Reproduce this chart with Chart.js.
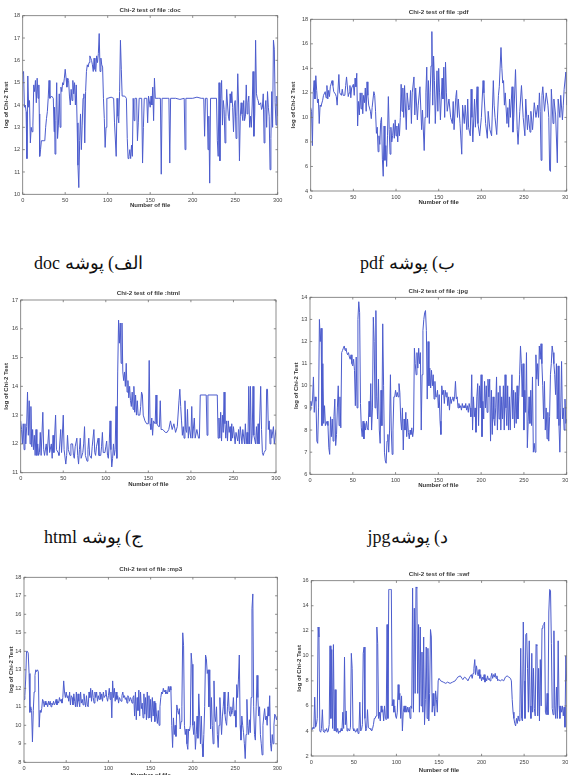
<!DOCTYPE html>
<html><head><meta charset="utf-8">
<script src="https://cdn.jsdelivr.net/npm/chart.js@4.4.1/dist/chart.umd.min.js"></script>
<style>
html,body{margin:0;padding:0;background:#fff;overflow:hidden;width:568px;height:775px}
.pc{position:absolute}
.cap{position:absolute;font-family:'Liberation Serif','Times New Roman',serif;font-size:18px;line-height:18px;color:#111;white-space:nowrap;direction:rtl;text-align:right}
</style></head><body>
<div class="cap" style="right:425px;top:254px">الف) پوشه doc</div>
<div class="cap" style="right:113px;top:254px">ب) پوشه pdf</div>
<div class="cap" style="right:425px;top:528px">ج) پوشه html</div>
<div class="cap" style="right:120px;top:528px">د) پوشهjpg</div>
<script>
// ---------- data (file number, log of Chi-2 test) ----------
const xTicks = [0, 50, 100, 150, 200, 250, 300];

const docData = [[0,15.4],[1,15.5],[2,13.9],[3,14.0],[4,13.7],[5,11.6],[6,15.3],[7,13.9],[8,14.2],[9,12.3],[10,13.0],[11,12.8],[12,13.1],[13,14.9],[14,14.6],[15,15.1],[16,14.1],[17,15.2],[18,14.3],[19,14.9],[19.5,13.6],[20,11.7],[21,12.0],[22,12.4],[24,12.4],[26,12.4],[27,13.0],[28,13.4],[29,13.7],[30,14.3],[31,15.1],[32,14.3],[34,14.4],[36,14.3],[37,12.8],[37.5,13.9],[38,11.8],[39,13.3],[40,15.0],[41,12.5],[42,13.1],[43,14.5],[44,13.0],[45,14.8],[46,14.6],[47,15.0],[48,14.9],[49,15.2],[50,15.6],[51,15.2],[52,14.8],[53,15.2],[54,15.1],[55,14.4],[56,14.0],[57,14.7],[58,14.2],[59,15.1],[60,14.5],[61,15.0],[62,14.0],[63,14.9],[64,13.2],[65,11.3],[66,10.3],[67,12.4],[68,13.6],[69,12.0],[70,13.1],[71,14.3],[72,14.5],[73,12.3],[74,14.6],[75,15.5],[76,15.8],[77,15.7],[78,15.9],[79,16.2],[80,16.1],[81,16.0],[82,15.8],[83,15.5],[84,16.1],[85,15.6],[86,15.5],[87,16.2],[88,15.9],[89,16.3],[90,17.2],[91,15.5],[92,16.1],[93,15.8],[94,15.7],[95,14.3],[96,13.4],[97,12.1],[98,13.0],[99,14.3],[100,14.3],[104,14.35],[107,14.3],[108,13.2],[110,11.7],[111,14.3],[112,13.5],[113,13.2],[114,14.6],[115,16.9],[116,15.6],[117,14.4],[120,14.4],[122,14.3],[123,12.5],[124,11.6],[125,11.7],[126,12.0],[127,11.6],[128,12.2],[129,11.7],[130,14.3],[131,13.3],[132,14.3],[134,14.3],[135,12.4],[136,13.2],[137,14.3],[140,14.3],[141,11.4],[142,13.0],[143,14.3],[146,14.3],[147,13.2],[148,14.4],[150,13.9],[151,14.4],[152,14.0],[153,14.8],[154,13.3],[155,15.2],[156,14.3],[160,14.3],[162,14.3],[163,10.9],[164,14.3],[170,14.3],[172,14.3],[173,11.4],[174,14.3],[180,14.3],[185,14.25],[190,14.3],[191,12.0],[192,14.3],[200,14.3],[205,14.35],[210,14.3],[213,14.3],[214,12.6],[215,14.3],[217,14.3],[218,12.0],[219,13.5],[220,10.5],[221,14.3],[228,14.3],[229,12.4],[230,11.7],[231,15.0],[232,11.5],[233,14.3],[234,15.1],[235,13.1],[236,14.2],[237,13.8],[238,12.3],[239,13.5],[240,14.7],[241,14.0],[242,13.5],[243,13.3],[244,14.5],[245,14.1],[246,14.6],[247,13.9],[248,12.8],[249,14.0],[250,14.2],[251,12.5],[252,13.5],[253,15.4],[254,14.0],[255,11.5],[256,13.5],[257,14.1],[258,13.6],[259,13.3],[260,14.2],[261,13.3],[262,13.5],[263,14.9],[264,13.6],[265,14.1],[266,14.4],[267,13.0],[268,13.5],[269,13.0],[270,14.0],[271,15.5],[272,12.6],[273,13.6],[274,16.9],[275,14.5],[276,14.3],[277,14.2],[278,14.0],[280,14.1],[281,13.8],[282,13.9],[283,14.5],[284,12.3],[285,13.8],[286,14.2],[287,13.0],[288,14.6],[289,13.9],[290,13.5],[291,11.1],[292,12.5],[293,14.6],[294,13.0],[295,16.9],[296,16.5],[297,14.1],[298,13.1],[299,14.4],[300,13.5]];

const pdfData = [[0,10.8],[1,10.5],[2,7.7],[3,12.0],[4,13.0],[5,11.5],[6,13.4],[7,12.2],[8,11.2],[9,11.5],[10,9.5],[11,11.0],[12,10.9],[14,11.4],[15,11.8],[17,12.1],[18,11.6],[19,12.6],[20,11.5],[21,12.2],[22,11.7],[23,12.5],[25,13.0],[26,12.6],[27,12.1],[29,11.9],[30,11.7],[31,11.0],[33,13.5],[34,12.0],[36,11.8],[37,12.3],[38,11.8],[40,11.8],[41,12.6],[42,13.3],[44,11.7],[45,12.0],[46,12.6],[47,11.6],[48,12.4],[50,12.7],[51,11.8],[52,13.2],[53,12.5],[54,13.6],[55,9.3],[56,11.3],[57,10.2],[58,12.0],[59,10.7],[60,12.0],[61,10.3],[62,11.8],[63,11.2],[64,12.4],[65,10.5],[66,12.9],[67,11.8],[68,11.0],[70,10.5],[71,9.9],[72,10.8],[74,12.1],[75,11.8],[76,10.5],[77,8.7],[78,9.2],[79,7.2],[80,8.5],[81,7.8],[82,9.6],[83,10.0],[84,6.6],[85,5.2],[86,9.3],[87,6.5],[88,7.7],[89,6.0],[90,8.5],[91,11.7],[92,9.0],[93,7.0],[94,9.2],[95,8.0],[96,8.5],[97,9.5],[98,8.3],[99,9.8],[100,8.5],[101,9.3],[102,8.0],[103,9.5],[104,8.5],[105,10.0],[106,12.7],[107,10.5],[108,12.4],[109,10.0],[110,12.6],[112,9.0],[113,12.0],[115,10.6],[116,10.8],[117,12.2],[118,9.5],[119,12.0],[121,13.3],[122,10.2],[123,12.4],[125,9.8],[126,11.0],[128,12.5],[130,9.0],[131,10.6],[133,7.3],[134,10.0],[135,12.0],[136,14.1],[137,10.0],[138,13.0],[139,9.5],[140,12.0],[141,14.2],[142,17.0],[143,11.0],[144,15.0],[145,13.0],[146,9.5],[148,13.8],[149,10.5],[150,14.0],[151,12.0],[152,9.8],[154,13.2],[155,11.5],[156,14.1],[157,10.0],[158,14.5],[159,12.0],[160,10.5],[162,11.5],[164,10.0],[166,9.5],[167,11.3],[168,9.0],[170,11.6],[171,12.2],[172,10.0],[173,11.5],[175,9.5],[177,7.0],[178,11.0],[180,9.5],[181,11.0],[183,9.0],[184,11.5],[185,9.2],[187,8.5],[188,12.3],[189,10.0],[190,8.0],[192,11.5],[193,9.2],[195,12.5],[196,9.5],[198,8.5],[200,10.0],[202,13.0],[203,12.0],[205,9.5],[207,8.3],[208,10.5],[210,9.0],[212,8.5],[214,13.0],[215,11.0],[216,10.0],[218,8.6],[220,11.8],[221,12.5],[223,15.7],[224,14.0],[225,12.8],[226,13.0],[227,11.0],[228,12.0],[230,9.5],[231,10.8],[232,9.2],[233,11.5],[234,10.0],[236,12.5],[237,8.8],[238,10.0],[240,13.9],[242,9.0],[243,7.8],[245,10.5],[247,12.6],[249,10.0],[251,8.5],[252,11.5],[254,9.0],[255,10.2],[257,8.8],[258,10.5],[260,9.0],[262,11.2],[264,10.0],[266,11.0],[267,10.0],[268,12.0],[269,10.5],[270,6.5],[271,11.8],[272,12.5],[274,10.5],[276,12.0],[278,11.0],[279,10.0],[280,5.7],[281,5.6],[282,12.3],[284,9.5],[285,11.5],[287,10.2],[289,6.3],[290,11.5],[292,10.0],[293,11.8],[295,9.8],[296,11.0],[297,12.3],[299,13.7],[300,11.0]];

const htmlData = [[0,12.8],[1,12.5],[2,12.0],[3,12.7],[4,11.8],[5,12.7],[6,12.0],[7,12.6],[8,13.8],[9,12.3],[10,13.5],[11,12.0],[12,13.3],[13,11.9],[14,12.5],[15,11.8],[16,12.3],[17,11.6],[18,12.5],[19,11.6],[20,12.0],[21,11.6],[22,11.7],[23,12.4],[24,11.6],[26,13.1],[27,11.8],[28,11.6],[30,12.0],[31,11.6],[33,12.5],[34,11.7],[36,12.0],[37,11.5],[38,12.3],[39,11.7],[41,13.0],[42,11.8],[44,11.7],[45,11.6],[47,12.5],[48,11.7],[50,13.0],[51,11.8],[53,11.3],[54,11.6],[55,12.3],[56,11.8],[58,11.6],[59,12.0],[61,12.0],[62,11.6],[63,11.5],[64,11.9],[66,12.2],[67,11.6],[68,11.3],[69,11.8],[70,12.2],[71,11.5],[73,11.7],[74,12.0],[75,12.6],[76,11.6],[78,11.4],[79,11.8],[80,12.2],[81,11.6],[83,11.5],[84,11.9],[86,12.5],[87,11.7],[88,11.6],[89,11.9],[91,12.2],[92,11.6],[94,11.6],[95,11.9],[96,12.4],[97,11.7],[99,11.7],[100,11.9],[101,12.1],[102,11.6],[103,11.5],[104,12.0],[105,12.8],[106,11.8],[107,11.2],[108,11.5],[109,12.0],[110,11.6],[111,11.8],[112,13.3],[113,11.5],[114,14.5],[115,16.3],[116,15.5],[117,16.2],[118,14.8],[119,16.2],[120,14.5],[121,14.2],[122,14.5],[123,14.0],[124,14.8],[125,13.8],[126,14.2],[127,13.6],[128,14.0],[129,13.5],[130,13.3],[131,13.8],[132,13.2],[133,14.0],[134,13.1],[135,13.7],[136,13.0],[137,13.5],[138,13.0],[140,13.0],[141,13.3],[142,13.8],[143,13.7],[144,13.0],[146,12.8],[148,12.7],[150,12.7],[151,14.9],[152,12.7],[153,12.5],[154,12.9],[155,12.3],[156,12.8],[158,12.7],[159,13.7],[160,12.7],[162,12.6],[163,12.6],[164,13.5],[165,12.5],[167,12.5],[170,12.4],[172,12.4],[174,12.5],[176,12.8],[178,12.5],[180,12.7],[182,12.4],[184,12.6],[186,13.5],[187,13.9],[188,13.3],[189,12.8],[190,12.3],[191,12.6],[192,12.2],[193,13.5],[194,12.5],[195,12.4],[196,13.2],[197,12.2],[198,12.6],[200,12.2],[201,13.3],[202,12.2],[204,12.9],[205,12.2],[207,12.5],[209,12.2],[210,12.2],[211,13.7],[218,13.7],[219,12.3],[220,13.7],[231,13.7],[232,12.2],[233,12.9],[234,12.2],[235,13.1],[236,12.1],[237,13.0],[238,12.4],[239,13.8],[240,12.7],[241,12.2],[242,12.8],[243,12.1],[244,12.8],[245,12.4],[246,12.6],[247,12.1],[248,12.7],[249,12.2],[250,12.6],[252,12.0],[253,12.4],[255,12.1],[256,12.5],[257,12.0],[258,12.6],[260,12.0],[261,12.5],[263,12.0],[264,12.7],[265,12.0],[266,12.4],[267,12.0],[268,14.0],[269,12.0],[270,14.0],[271,12.0],[272,12.3],[273,14.0],[274,12.3],[276,12.0],[277,12.6],[278,12.0],[279,12.7],[280,12.0],[282,14.0],[283,12.5],[284,11.7],[285,11.6],[286,11.7],[288,11.8],[289,13.9],[290,13.9],[291,12.5],[292,12.8],[293,12.0],[294,12.5],[295,12.2],[297,12.6],[298,12.0],[300,12.5]];

const jpgData = [[0,8.9],[1,9.3],[2,9.1],[3,9.4],[4,10.4],[5,8.8],[6,9.5],[7,9.3],[8,7.5],[9,7.4],[10,9.0],[11,13.0],[12,12.0],[13,12.6],[14,8.2],[15,11.0],[16,8.3],[17,9.1],[18,8.2],[20,8.4],[21,8.2],[22,7.2],[23,6.9],[24,8.6],[25,7.7],[26,8.5],[27,7.5],[28,8.6],[29,9.4],[30,7.3],[31,7.8],[32,9.0],[33,10.0],[34,8.2],[35,9.5],[36,8.1],[37,11.5],[38,11.6],[39,11.7],[40,11.8],[41,11.6],[42,11.7],[43,11.5],[44,11.4],[45,11.5],[46,11.3],[47,11.2],[48,11.4],[49,11.0],[50,10.9],[51,11.2],[52,10.7],[53,9.1],[54,11.3],[55,9.0],[56,13.0],[57,13.8],[58,13.3],[59,9.2],[60,8.1],[61,7.7],[62,8.4],[63,7.6],[64,8.3],[65,8.0],[66,8.4],[67,8.1],[68,8.0],[69,9.3],[70,8.6],[71,10.1],[72,8.0],[73,9.0],[74,13.1],[75,12.0],[76,9.0],[77,13.4],[78,9.5],[79,8.5],[80,10.3],[81,8.0],[82,7.4],[83,9.8],[84,8.2],[85,12.8],[86,10.0],[87,7.0],[88,6.6],[89,6.5],[90,7.5],[91,7.8],[92,7.0],[93,8.0],[94,10.5],[95,8.0],[96,6.9],[97,8.0],[98,9.5],[99,9.5],[100,9.8],[101,9.5],[102,9.7],[103,9.5],[104,10.1],[105,9.7],[106,8.5],[107,8.0],[108,9.0],[109,7.1],[110,8.5],[111,8.0],[112,8.8],[113,7.7],[114,8.5],[115,7.9],[116,7.6],[117,8.0],[118,7.8],[119,8.1],[120,7.7],[121,8.0],[122,11.7],[123,11.0],[124,10.5],[125,11.5],[126,10.8],[127,11.7],[128,11.0],[129,11.5],[130,8.0],[131,10.5],[132,12.5],[133,13.0],[134,13.3],[135,13.4],[136,12.5],[137,9.4],[138,12.0],[139,10.0],[140,10.8],[141,9.9],[142,10.7],[143,10.0],[144,10.5],[145,9.4],[146,10.2],[147,9.5],[148,9.5],[149,9.8],[150,9.0],[151,9.6],[152,8.4],[153,7.8],[154,10.0],[155,9.6],[156,9.8],[157,9.2],[158,9.8],[159,9.5],[160,9.7],[161,9.1],[162,9.5],[163,8.9],[164,9.5],[165,9.2],[166,9.4],[167,9.5],[168,9.3],[169,9.5],[170,10.2],[171,9.4],[172,9.5],[173,9.0],[174,9.2],[175,9.0],[176,9.1],[177,8.9],[178,9.2],[179,9.0],[180,9.1],[181,9.0],[182,9.2],[183,8.9],[184,9.1],[185,8.8],[186,9.2],[187,9.0],[188,8.6],[189,10.5],[190,8.0],[191,9.5],[192,8.6],[193,9.0],[194,7.9],[195,9.5],[196,10.1],[197,8.2],[198,10.0],[199,9.0],[200,10.5],[201,7.7],[202,9.3],[203,8.5],[204,10.2],[205,9.0],[206,10.0],[207,8.8],[208,10.3],[209,9.5],[210,10.3],[211,7.5],[212,9.8],[213,7.8],[214,9.5],[215,8.5],[216,8.2],[217,9.0],[218,10.4],[219,8.0],[220,9.7],[221,8.5],[222,10.0],[223,8.0],[224,9.5],[225,8.5],[226,10.0],[227,8.0],[228,10.5],[229,9.0],[230,8.2],[231,10.0],[232,8.0],[233,9.5],[234,8.0],[236,10.5],[237,8.5],[238,9.8],[239,8.1],[240,9.7],[241,8.3],[242,10.0],[243,8.5],[244,9.5],[245,10.5],[246,11.8],[247,11.0],[248,9.5],[249,11.0],[250,8.0],[251,9.8],[252,8.8],[253,11.5],[254,7.2],[255,8.4],[256,9.5],[257,8.3],[258,9.8],[259,8.2],[260,10.4],[261,7.0],[262,7.4],[263,7.0],[264,11.4],[265,10.3],[266,11.0],[267,10.0],[268,11.8],[269,11.2],[270,11.9],[271,11.0],[272,10.0],[273,8.5],[274,10.2],[275,8.0],[276,9.0],[277,7.6],[278,8.8],[279,7.5],[280,8.6],[281,10.5],[282,11.0],[283,11.8],[284,11.5],[285,11.0],[286,10.5],[287,9.6],[288,11.0],[289,8.5],[290,10.9],[291,8.2],[292,7.0],[293,9.0],[294,11.1],[295,8.5],[296,9.0],[297,8.0],[298,9.4],[299,8.3],[300,8.5]];

const mp3Data = [[0,11.4],[1,11.6],[2,12.5],[3,14.0],[4,14.0],[5,13.9],[6,12.8],[7,10.7],[8,11.0],[9,10.8],[10,9.1],[11,10.8],[12,11.8],[13,12.7],[14,13.0],[15,12.9],[16,13.0],[17,12.9],[18,9.9],[19,10.8],[20,10.7],[21,10.9],[22,11.4],[23,11.3],[24,11.0],[25,11.3],[26,11.1],[27,11.2],[28,11.0],[29,11.3],[30,11.1],[31,11.3],[32,11.0],[33,11.2],[34,11.1],[35,11.3],[36,11.1],[37,11.2],[38,11.4],[39,11.1],[40,11.3],[41,11.2],[42,11.5],[43,11.3],[44,11.4],[45,11.2],[46,11.5],[47,12.4],[48,11.8],[49,11.5],[50,11.8],[51,11.5],[52,11.6],[53,11.3],[54,11.8],[55,11.1],[56,11.6],[57,11.5],[58,11.1],[59,11.7],[60,11.3],[61,11.0],[62,11.8],[63,11.0],[64,11.7],[65,11.3],[66,11.0],[67,11.8],[68,11.2],[69,11.4],[70,11.1],[71,11.7],[72,11.3],[73,11.0],[74,11.6],[75,11.1],[76,11.0],[77,11.8],[78,11.5],[79,12.0],[80,11.3],[81,11.9],[82,11.5],[83,11.2],[84,11.8],[85,11.5],[86,11.8],[87,11.3],[88,11.6],[89,11.4],[90,11.8],[91,11.4],[92,11.7],[93,11.3],[94,11.8],[95,11.5],[96,11.6],[97,11.9],[98,11.5],[99,11.3],[100,11.6],[101,12.0],[102,11.4],[103,11.8],[104,10.4],[105,12.4],[106,11.5],[107,12.0],[108,11.3],[109,11.8],[110,11.4],[111,11.6],[112,11.2],[113,11.5],[114,11.4],[115,11.3],[116,11.6],[117,11.8],[118,11.5],[119,11.6],[120,11.4],[121,11.5],[122,11.2],[123,11.6],[124,11.5],[125,11.3],[126,11.5],[127,11.4],[128,11.2],[129,11.5],[130,11.6],[131,10.5],[132,11.8],[133,10.3],[134,11.5],[135,10.8],[136,11.9],[137,10.5],[138,11.8],[139,10.9],[140,11.2],[141,10.4],[142,11.7],[143,10.6],[144,11.5],[145,10.3],[146,11.8],[147,10.4],[148,11.6],[149,10.4],[150,11.4],[151,10.2],[152,11.5],[153,10.5],[154,11.3],[155,10.2],[156,11.2],[157,10.5],[158,10.1],[159,10.8],[160,10.0],[161,11.0],[162,11.5],[163,11.8],[164,11.7],[165,12.0],[166,11.8],[167,11.9],[168,11.7],[169,11.8],[170,11.7],[171,12.1],[172,11.8],[173,12.1],[174,11.9],[175,10.0],[176,8.8],[177,10.4],[178,9.5],[179,10.0],[180,9.4],[181,11.1],[182,10.8],[183,10.6],[184,10.9],[185,9.8],[186,10.2],[187,11.0],[188,15.0],[189,14.3],[190,10.0],[191,9.5],[192,9.8],[193,9.0],[194,8.7],[195,9.8],[196,9.7],[197,10.0],[198,13.9],[199,13.3],[200,10.0],[201,9.5],[202,10.2],[203,8.7],[204,9.5],[205,10.5],[206,9.3],[207,11.7],[208,10.5],[209,9.0],[210,10.5],[211,9.0],[212,8.3],[213,9.5],[214,11.0],[215,13.8],[216,13.6],[217,12.8],[218,13.0],[219,11.0],[220,13.0],[221,9.8],[222,11.5],[223,10.0],[224,9.0],[225,12.4],[226,10.5],[227,10.2],[228,11.0],[229,9.5],[230,8.8],[231,10.0],[232,11.5],[233,10.5],[234,9.5],[235,10.5],[236,11.0],[237,11.8],[238,10.6],[239,10.2],[240,10.0],[241,11.0],[242,11.8],[243,10.8],[244,10.5],[245,11.0],[246,10.6],[247,10.8],[248,11.5],[249,10.5],[250,10.8],[251,9.9],[252,12.2],[253,11.5],[254,12.5],[255,13.8],[256,10.0],[257,9.2],[258,10.5],[259,10.0],[260,9.6],[261,9.0],[262,8.2],[263,9.5],[264,11.4],[265,10.0],[266,9.5],[267,10.3],[268,9.6],[269,11.5],[270,16.3],[271,17.1],[272,11.0],[273,9.5],[274,9.2],[275,11.0],[276,12.7],[277,11.5],[278,10.5],[279,11.0],[280,9.5],[281,9.0],[282,8.4],[283,10.0],[284,10.5],[285,10.9],[286,10.3],[287,10.5],[288,10.0],[289,11.0],[290,10.5],[291,11.6],[292,9.0],[293,8.6],[294,9.5],[295,9.0],[296,10.0],[297,10.6],[298,10.5],[299,10.3],[300,10.5]];

const swfData = [[0,4.2],[1,4.1],[2,4.3],[3,4.2],[4,6.7],[5,4.3],[6,4.5],[7,5.0],[8,12.3],[9,11.5],[10,4.0],[11,3.9],[12,4.2],[13,5.7],[14,4.0],[15,3.9],[16,4.1],[17,4.0],[18,4.2],[19,3.9],[20,4.0],[21,4.5],[22,10.8],[23,5.0],[24,10.5],[25,4.2],[26,10.9],[27,4.0],[28,7.3],[29,4.0],[30,3.9],[31,4.2],[32,3.8],[33,4.0],[34,3.9],[35,4.2],[36,4.0],[37,5.5],[38,4.2],[39,9.9],[40,4.5],[41,5.6],[42,4.0],[43,4.2],[44,4.1],[45,4.0],[46,4.3],[47,10.2],[48,9.0],[49,4.2],[50,4.0],[51,4.1],[52,3.9],[53,4.0],[54,4.2],[55,3.8],[56,4.0],[57,6.3],[58,4.0],[59,4.1],[60,4.5],[61,10.2],[62,10.7],[63,5.0],[64,4.0],[65,4.2],[66,5.7],[67,4.3],[68,4.2],[69,4.2],[70,4.1],[71,4.0],[72,4.2],[73,4.5],[74,5.0],[75,5.0],[76,5.2],[77,12.3],[78,11.0],[79,5.0],[80,5.5],[81,4.8],[82,6.0],[83,5.5],[84,5.7],[85,4.8],[86,6.0],[87,5.0],[88,4.9],[89,12.5],[90,5.0],[91,15.3],[92,15.3],[93,15.3],[94,15.3],[95,6.0],[96,6.5],[97,5.5],[98,6.0],[99,5.2],[100,5.0],[101,5.5],[102,7.7],[103,6.5],[104,7.0],[105,5.0],[106,6.8],[107,4.0],[108,5.5],[109,6.0],[110,5.5],[111,6.0],[112,5.5],[113,5.9],[114,5.5],[115,5.9],[116,5.0],[117,6.0],[118,5.8],[119,15.4],[120,5.5],[121,13.8],[122,7.0],[123,15.5],[124,15.4],[125,7.0],[126,12.5],[127,5.5],[128,12.3],[129,6.0],[130,10.3],[131,5.5],[132,11.5],[133,4.5],[134,6.5],[135,10.7],[136,5.0],[137,10.6],[138,4.8],[139,7.0],[140,12.1],[141,11.5],[142,5.5],[143,7.0],[144,6.0],[145,5.2],[146,7.2],[147,6.5],[148,5.5],[149,8.0],[150,8.2],[152,8.0],[155,7.9],[158,7.8],[160,7.9],[163,7.8],[166,7.9],[169,8.0],[171,8.2],[172,8.3],[175,8.4],[177,8.2],[178,8.1],[180,8.3],[182,8.2],[184,8.0],[186,8.3],[188,8.5],[189,8.2],[190,8.6],[191,9.0],[192,9.7],[193,8.5],[194,9.2],[195,8.7],[196,8.4],[197,8.9],[198,8.2],[199,8.5],[200,8.0],[201,8.3],[202,8.1],[203,8.5],[204,7.9],[205,8.2],[206,8.0],[207,8.4],[208,8.1],[209,8.2],[210,8.0],[211,8.3],[212,8.6],[213,8.2],[214,8.5],[215,8.3],[216,8.6],[217,8.2],[218,8.4],[219,8.0],[220,8.1],[222,8.0],[224,8.1],[226,8.0],[228,8.3],[230,8.4],[232,8.3],[234,8.2],[235,8.0],[236,6.5],[237,5.5],[238,5.0],[239,4.6],[240,4.4],[241,5.0],[242,4.6],[243,5.2],[244,4.8],[245,5.5],[246,10.6],[247,5.0],[248,4.8],[249,12.7],[250,8.0],[251,5.0],[252,11.7],[253,11.8],[254,9.0],[255,5.5],[256,11.2],[257,6.0],[258,5.0],[259,10.2],[260,5.5],[261,9.0],[262,5.8],[263,5.2],[264,10.9],[265,10.8],[266,5.2],[267,9.0],[268,4.8],[269,9.7],[270,6.0],[271,12.2],[272,12.4],[273,12.5],[274,12.7],[275,5.5],[276,5.3],[277,7.0],[278,5.3],[279,13.5],[280,15.3],[281,15.2],[282,11.0],[283,5.8],[284,5.3],[285,12.0],[286,6.0],[287,5.0],[288,7.5],[289,5.0],[290,11.2],[291,6.0],[292,5.0],[293,6.0],[294,5.5],[295,6.0],[296,5.2],[297,5.9],[298,4.3],[299,10.0],[300,8.0]];

const titles = ['Chi-2 test of file :doc','Chi-2 test of file :pdf','Chi-2 test of file :html','Chi-2 test of file :jpg','Chi-2 test of file :mp3','Chi-2 test of file :swf'];
const yRanges = [[10,18,1],[4,18,2],[11,17,1],[6,14,1],[8,18,1],[2,16,2]];
const series = [docData, pdfData, htmlData, jpgData, mp3Data, swfData];

// ---------- layout (page pixels) ----------
const panels = [
  {x0:0,  y0:0,   w:284, h:215, L:22.7,  T:15.7,  R:277.7, B:194.3, tY:10,    xlY:205.7, ylX:6},
  {x0:284,y0:0,   w:284, h:215, L:310.7, T:19.3,  R:566.7, B:191,   tY:12.7,  xlY:202,   ylX:293.5},
  {x0:0,  y0:283, w:284, h:210, L:20.7,  T:300,   R:276,   B:472.7, tY:293.3, xlY:484,   ylX:6},
  {x0:284,y0:283, w:284, h:210, L:310,   T:297.3, R:566.7, B:474.3, tY:291,   xlY:485.7, ylX:296.7},
  {x0:0,  y0:560, w:284, h:225, L:24,    T:577.3, R:277.3, B:762.3, tY:569.3, xlY:775.5, ylX:11.7},
  {x0:284,y0:560, w:284, h:225, L:311.3, T:580.7, R:566.7, B:756,   tY:574.3, xlY:770,   ylX:299}
];

const FF = "'Liberation Sans', Arial, Helvetica, sans-serif";
const LINE = 'rgb(76,92,205)';
const TICK_FS = 5.6, LAB_FS = 6, TIT_FS = 6.2;

const boxPlugin = {
  id: 'matlabBox',
  afterDatasetsDraw(chart) {
    const {ctx, chartArea: a, scales: {x, y}} = chart;
    ctx.save();
    ctx.strokeStyle = '#707070';
    ctx.lineWidth = 0.8;
    ctx.strokeRect(a.left, a.top, a.right - a.left, a.bottom - a.top);
    const tl = 2.2;
    ctx.beginPath();
    x.ticks.forEach(t => {
      const px = x.getPixelForValue(t.value);
      ctx.moveTo(px, a.bottom); ctx.lineTo(px, a.bottom - tl);
      ctx.moveTo(px, a.top); ctx.lineTo(px, a.top + tl);
    });
    y.ticks.forEach(t => {
      const py = y.getPixelForValue(t.value);
      ctx.moveTo(a.left, py); ctx.lineTo(a.left + tl, py);
      ctx.moveTo(a.right, py); ctx.lineTo(a.right - tl, py);
    });
    ctx.stroke();
    ctx.restore();
  }
};

panels.forEach((p, i) => {
  const wrap = document.createElement('div');
  wrap.className = 'pc';
  wrap.style.left = p.x0 + 'px'; wrap.style.top = p.y0 + 'px';
  wrap.style.width = p.w + 'px'; wrap.style.height = p.h + 'px';
  const cv = document.createElement('canvas');
  cv.width = p.w; cv.height = p.h;
  cv.style.width = p.w + 'px'; cv.style.height = p.h + 'px';
  wrap.appendChild(cv);
  document.body.appendChild(wrap);

  const lhT = TIT_FS * 1.2, lhL = LAB_FS * 1.2;
  const [ymin, ymax, ystep] = yRanges[i];
  new Chart(cv, {
    type: 'line',
    data: {
      datasets: [{
        data: series[i].map(d => ({x: d[0], y: d[1]})),
        borderColor: LINE, borderWidth: 1, pointRadius: 0, tension: 0, fill: false
      }]
    },
    options: {
      responsive: false, animation: false, events: [],
      layout: {padding: {left: 0, top: 0, right: (p.x0 + p.w) - p.R, bottom: 0}},
      plugins: {
        legend: {display: false},
        tooltip: {enabled: false},
        title: {
          display: true, text: titles[i], fullSize: false, color: '#3a3a3a',
          font: {size: TIT_FS, family: FF, weight: 'bold'},
          padding: {top: p.tY - p.y0 - lhT / 2, bottom: p.T - p.tY - lhT / 2}
        }
      },
      scales: {
        x: {
          type: 'linear', min: 0, max: 300,
          grid: {display: false, drawTicks: false}, border: {display: false},
          afterBuildTicks(s) { s.ticks = xTicks.map(v => ({value: v})); },
          ticks: {padding: 2.6, color: '#444', maxRotation: 0, autoSkip: false, font: {size: TICK_FS, family: FF}},
          title: {display: true, text: 'Number of file', color: '#333',
            font: {size: LAB_FS, family: FF, weight: 'bold'},
            padding: {top: 0, bottom: (p.y0 + p.h) - p.xlY - lhL / 2}},
          afterFit(s) { s.height = (p.y0 + p.h) - p.B; s.paddingLeft = 0; s.paddingRight = 0; }
        },
        y: {
          type: 'linear', min: ymin, max: ymax,
          grid: {display: false, drawTicks: false}, border: {display: false},
          ticks: {stepSize: ystep, padding: 2.6, color: '#444', font: {size: TICK_FS, family: FF}},
          title: {display: true, text: 'log of Chi-2 Test', color: '#333',
            font: {size: LAB_FS, family: FF, weight: 'bold'},
            padding: {top: p.ylX - p.x0 - lhL / 2, bottom: 0}},
          afterFit(s) { s.width = p.L - p.x0; s.paddingTop = 0; s.paddingBottom = 0; }
        }
      }
    },
    plugins: [boxPlugin]
  });
});
</script>
</body></html>
